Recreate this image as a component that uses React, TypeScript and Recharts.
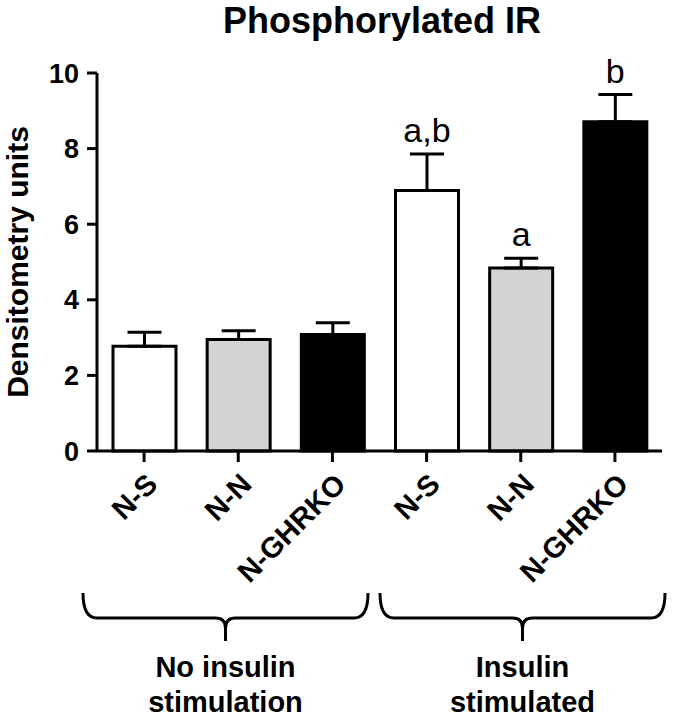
import { BarChart, Bar, XAxis, YAxis, Cell, ErrorBar, LabelList } from 'recharts';

const groups = ['N-S', 'N-N', 'N-GHRKO', 'N-S', 'N-N', 'N-GHRKO'];
const means = [2.77, 2.95, 3.08, 6.89, 4.84, 8.71];
const sems = [0.37, 0.23, 0.31, 0.97, 0.26, 0.72];
const letters = ['', '', '', 'a,b', 'a', 'b'];
const fills = ['#ffffff', '#d3d3d3', '#000000', '#ffffff', '#d3d3d3', '#000000'];
const yTicks = [0, 2, 4, 6, 8, 10];
const stimGroups = [
  { lines: ['No insulin', 'stimulation'], from: 83, to: 368 },
  { lines: ['Insulin', 'stimulated'], from: 380, to: 665 },
];

const data = groups.map((g, i) => ({
  label: g,
  mean: means[i],
  err: [0, sems[i]],
  letter: letters[i],
}));

const FONT = '"Liberation Sans", Arial, sans-serif';

if (typeof document !== 'undefined') document.body.style.margin = '0';

const XTick = (props: any) => {
  const { x, y, payload } = props;
  return (
    <text
      transform={`translate(${x + 15},${y + 22}) rotate(-45)`}
      textAnchor="end"
      fontFamily={FONT}
      fontWeight="bold"
      fontSize={29}
      fill="#000"
    >
      {payload.value}
    </text>
  );
};

const Letter = (props: any) => {
  const { x, y, width, height, index } = props;
  const txt = letters[index];
  if (!txt) return null;
  const errTop = y - (sems[index] * height) / means[index];
  return (
    <text x={x + width / 2} y={errTop - 12} textAnchor="middle" fontFamily={FONT} fontSize={34} fill="#000">
      {txt}
    </text>
  );
};

const Brace = ({ from, to }: { from: number; to: number }) => {
  const mid = (from + to) / 2;
  const top = 593;
  const h = 618;
  const bot = 641;
  const d = `M${from},${top} Q${from},${h} ${from + 14},${h} L${mid - 10},${h} Q${mid},${h} ${mid},${h + 10} L${mid},${bot} M${mid},${h + 10} Q${mid},${h} ${mid + 10},${h} L${to - 14},${h} Q${to},${h} ${to},${top}`;
  return <path d={d} fill="none" stroke="#000" strokeWidth={3} />;
};

export default function App() {
  return (
    <div style={{ position: 'relative', width: 673, height: 721, background: '#fff' }}>
      <BarChart
        width={673}
        height={721}
        data={data}
        margin={{ top: 73, right: 11, left: 0, bottom: 170 }}
      >
        <XAxis
          dataKey="label"
          height={100}
          tick={<XTick />}
          tickSize={11}
          interval={0}
          axisLine={{ stroke: '#000', strokeWidth: 3 }}
          tickLine={{ stroke: '#000', strokeWidth: 3 }}
        />
        <YAxis
          width={97}
          domain={[0, 10]}
          ticks={yTicks}
          tickSize={10}
          tickMargin={8}
          axisLine={{ stroke: '#000', strokeWidth: 3 }}
          tickLine={{ stroke: '#000', strokeWidth: 3 }}
          tick={{ fill: '#000', fontSize: 27, fontWeight: 'bold', fontFamily: FONT }}
          label={{
            value: 'Densitometry units',
            angle: -90,
            position: 'insideLeft',
            dx: 12,
            dy: 0,
            style: { textAnchor: 'middle', fontSize: 30, fontWeight: 'bold', fontFamily: FONT, fill: '#000' },
          }}
        />
        <Bar dataKey="mean" barSize={63} stroke="#000" strokeWidth={3} isAnimationActive={false}>
          {data.map((_, i) => (
            <Cell key={i} fill={fills[i]} />
          ))}
          <ErrorBar dataKey="err" width={17} stroke="#000" strokeWidth={3} direction="y" />
          <LabelList dataKey="letter" content={<Letter />} />
        </Bar>
      </BarChart>
      <svg width={673} height={721} style={{ position: 'absolute', left: 0, top: 0, pointerEvents: 'none' }}>
        <text x={382} y={33} textAnchor="middle" fontFamily={FONT} fontWeight="bold" fontSize={36} fill="#000">
          Phosphorylated IR
        </text>
        {stimGroups.map((g, i) => (
          <g key={i}>
            <Brace from={g.from} to={g.to} />
            {g.lines.map((ln, j) => (
              <text
                key={j}
                x={(g.from + g.to) / 2}
                y={677 + j * 35}
                textAnchor="middle"
                fontFamily={FONT}
                fontWeight="bold"
                fontSize={29}
                fill="#000"
              >
                {ln}
              </text>
            ))}
          </g>
        ))}
      </svg>
    </div>
  );
}
